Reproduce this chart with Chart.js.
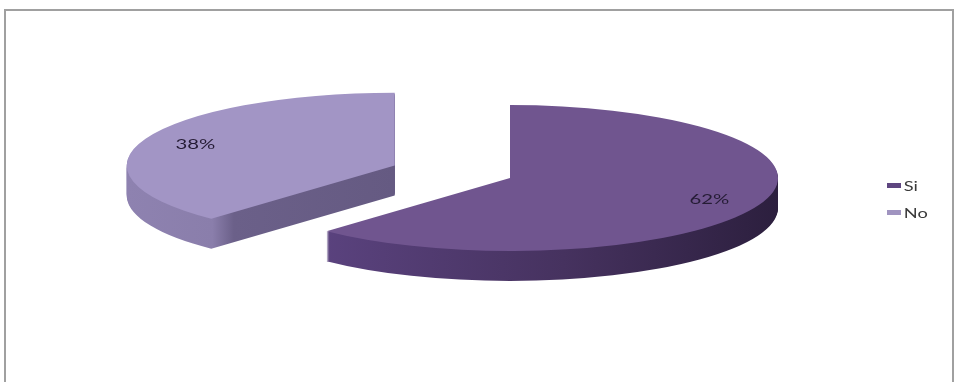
<!DOCTYPE html>
<html>
<head>
<meta charset="utf-8">
<script src="https://cdn.jsdelivr.net/npm/chart.js@4.4.0/dist/chart.umd.min.js"></script>
<style>
  body { margin: 0; background: #fff; }
  #wrap { position: relative; width: 954px; height: 382px; overflow: hidden; }
  #frame { position: absolute; left: 4px; top: 9px; width: 950px; height: 400px; border: 2px solid #a0a0a0; box-sizing: border-box; }
  #myChart { position: absolute; left: 0; top: 0; }
  #legend { position: absolute; left: 887px; top: 172px; font: 13px Lato, sans-serif; color: #3a3a3a; transform: scaleX(1.4); transform-origin: 0 0; }
  .item { display: flex; align-items: center; height: 27px; }
  .box { width: 10px; height: 5px; margin-right: 2px; }
</style>
</head>
<body>
<div id="wrap">
  <div id="frame"></div>
  <canvas id="myChart" width="954" height="382"></canvas>
  <div id="legend"></div>
</div>
<script>
const categories = ["Si", "No"];
const values = [62, 38];
const topColors = ["#70558f", "#a295c5"];
const legendColors = ["#5e4680", "#a094c0"];
// side gradient stops, left to right across each slice
const sideStops = [
  [[0.15, "#5a427e"], [0.6, "#46325f"], [1, "#2c1f3e"]],
  [[0, "#8e82b0"], [0.16, "#8a7eab"], [0.2, "#6b6089"], [0.5, "#655a82"]],
];
const explode = [0, 124];
const depth = 30;
const tilt = 0.272;

// fake 3d: squash the pie, extrude it downwards, then put the top on
const pie3d = {
  id: "pie3d",
  beforeDatasetsDraw(chart) {
    const ctx = chart.ctx;
    const arcs = chart.getDatasetMeta(0).data;
    const mid = (a) => (a.startAngle + a.endAngle) / 2;

    function place(arc, i, dy) {
      const m = mid(arc);
      ctx.translate(arc.x, arc.y + dy);
      ctx.scale(1, tilt);
      ctx.translate(-arc.x, -arc.y);
      ctx.translate(Math.cos(m) * explode[i], Math.sin(m) * explode[i]);
    }

    // back slices first
    const order = arcs.map((a, i) => i).sort((a, b) => Math.sin(mid(arcs[a])) - Math.sin(mid(arcs[b])));

    order.forEach((i) => {
      const arc = arcs[i];
      for (let d = depth; d > 0; d--) {
        ctx.save();
        place(arc, i, d);
        const grad = ctx.createLinearGradient(arc.x - arc.outerRadius, 0, arc.x + arc.outerRadius, 0);
        sideStops[i].forEach((s) => grad.addColorStop(s[0], s[1]));
        ctx.fillStyle = grad;
        ctx.beginPath();
        ctx.moveTo(arc.x, arc.y);
        ctx.arc(arc.x, arc.y, arc.outerRadius, arc.startAngle, arc.endAngle);
        ctx.closePath();
        ctx.fill();
        ctx.restore();
      }
      ctx.save();
      place(arc, i, 0);
      arc.draw(ctx);
      ctx.restore();
    });

    // percent labels, stretched wide like the rest of the chart
    const total = values.reduce((a, b) => a + b, 0);
    arcs.forEach((arc, i) => {
      const m = mid(arc);
      const r = arc.outerRadius * 0.8 + explode[i];
      const x = arc.x + Math.cos(m) * r;
      const y = arc.y + Math.sin(m) * r * tilt;
      ctx.save();
      ctx.translate(x, y);
      ctx.scale(1.45, 1);
      ctx.font = "14px Lato, sans-serif";
      ctx.fillStyle = "#251c35";
      ctx.textAlign = "center";
      ctx.textBaseline = "middle";
      ctx.fillText(Math.round((values[i] / total) * 100) + "%", 0, 0);
      ctx.restore();
    });
    return false;
  },
};

let legend = document.getElementById("legend");
categories.forEach((c, i) => {
  legend.innerHTML += '<div class="item"><span class="box" style="background:' + legendColors[i] + '"></span>' + c + "</div>";
});

let ctx = document.getElementById("myChart");
let chart = new Chart(ctx, {
  type: "pie",
  data: {
    labels: categories,
    datasets: [
      {
        data: values,
        backgroundColor: topColors,
        borderWidth: 0,
      },
    ],
  },
  options: {
    responsive: false,
    animation: false,
    events: [],
    radius: 268,
    layout: { padding: { left: 66, right: 0, top: 0, bottom: 26 } },
    plugins: {
      legend: { display: false },
      tooltip: { enabled: false },
    },
  },
  plugins: [pie3d],
});
</script>
</body>
</html>
